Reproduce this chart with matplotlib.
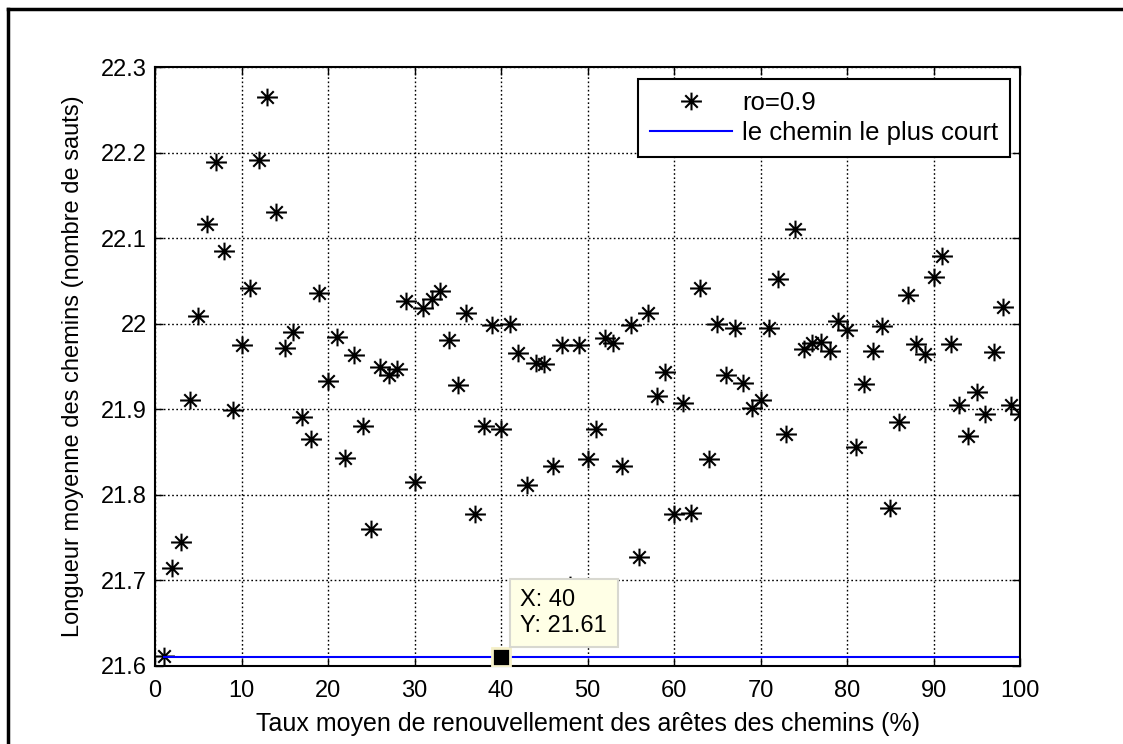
import numpy as np
import matplotlib
matplotlib.use("Agg")
import matplotlib.pyplot as plt
from matplotlib.path import Path
from matplotlib.lines import Line2D

plt.rcParams['font.family'] = ['Liberation Sans', 'DejaVu Sans']

# taux de renouvellement (%) et longueur moyenne mesurée
taux = list(range(1, 101))
longueur = [
    21.612, 21.715, 21.745, 21.911, 22.009, 22.117, 22.189, 22.085, 21.899, 21.975,
    22.042, 22.191, 22.265, 22.130, 21.972, 21.990, 21.891, 21.865, 22.036, 21.933,
    21.984, 21.843, 21.964, 21.881, 21.760, 21.949, 21.940, 21.947, 22.026, 21.815,
    22.018, 22.029, 22.038, 21.981, 21.928, 22.013, 21.778, 21.880, 21.998, 21.877,
    22.000, 21.966, 21.812, 21.954, 21.953, 21.834, 21.975, 21.695, 21.975, 21.842,
    21.877, 21.983, 21.977, 21.834, 21.999, 21.727, 22.013, 21.915, 21.944, 21.778,
    21.907, 21.779, 22.042, 21.842, 22.000, 21.940, 21.995, 21.931, 21.901, 21.911,
    21.995, 22.052, 21.871, 22.111, 21.971, 21.977, 21.979, 21.968, 22.003, 21.993,
    21.856, 21.929, 21.968, 21.997, 21.785, 21.885, 22.033, 21.976, 21.965, 22.055,
    22.079, 21.976, 21.905, 21.869, 21.920, 21.895, 21.967, 22.019, 21.905, 21.895,
]
plus_court = 21.61
tip_x, tip_y = 40, 21.61

x_ticks = list(range(0, 101, 10))
y_ticks = [21.6, 21.7, 21.8, 21.9, 22.0, 22.1, 22.2, 22.3]
y_labels = ['21.6', '21.7', '21.8', '21.9', '22', '22.1', '22.2', '22.3']

# marqueur étoile façon matlab (plus + croix)
star = Path(
    [(-1, 0), (1, 0), (0, -0.85), (0, 0.85),
     (-0.6, -0.6), (0.6, 0.6), (-0.6, 0.6), (0.6, -0.6)],
    [Path.MOVETO, Path.LINETO] * 4)

fig = plt.figure(figsize=(11.23, 7.44), dpi=100)
ax = fig.add_axes([155 / 1123, 1 - 666 / 744, 865 / 1123, 599 / 744])

ax.plot(taux, longueur, linestyle='none', marker=star, markersize=15,
        markeredgewidth=1.5, color='black', label='ro=0.9')
ax.plot([taux[0], taux[-1]], [plus_court, plus_court], color='blue',
        linewidth=1.5, label='le chemin le plus court')

ax.set_xlim(0, 100)
ax.set_ylim(21.6, 22.3)
ax.set_xticks(x_ticks)
ax.set_yticks(y_ticks)
ax.set_yticklabels(y_labels)
ax.tick_params(direction='in', length=6, width=1, labelsize=17, top=True,
               right=True)
ax.tick_params(axis='x', pad=10)
ax.tick_params(axis='y', pad=6)
ax.grid(True, color='black', linestyle=(0, (1.2, 1.8)), linewidth=1)
for s in ax.spines.values():
    s.set_linewidth(1.5)

ax.set_xlabel('Taux moyen de renouvellement des arêtes des chemins (%)',
              fontsize=18, labelpad=7)
ax.set_ylabel('Longueur moyenne des chemins (nombre de sauts)', fontsize=17,
              labelpad=12)

leg = ax.legend(loc='upper right', bbox_to_anchor=(1010 / 1123, 1 - 79 / 744),
                bbox_transform=fig.transFigure, fontsize=18.5, frameon=True,
                fancybox=False, framealpha=1, edgecolor='black',
                borderpad=0.45, handlelength=3.2, handletextpad=0.4,
                labelspacing=0.25, borderaxespad=0)
leg.get_frame().set_linewidth(1.5)

# data tip
ax.plot([tip_x], [tip_y], marker='s', markersize=13, color='black',
        markeredgecolor='#f5f0c8', markeredgewidth=2, zorder=5)
ax.annotate(f'X: {tip_x}\nY: {tip_y:.2f}', xy=(tip_x, tip_y),
            xytext=(14, 15), textcoords='offset points', fontsize=17,
            va='bottom', ha='left', linespacing=1.2,
            bbox=dict(boxstyle='square,pad=0.45', facecolor='#ffffe6',
                      edgecolor='#d8d8d0', linewidth=1.5), zorder=6)

# cadre de la capture
fig.add_artist(Line2D([8 / 1123, 8 / 1123], [0, 1 - 9 / 744],
                      color='black', linewidth=2.5, transform=fig.transFigure))
fig.add_artist(Line2D([8 / 1123, 1], [1 - 9 / 744, 1 - 9 / 744],
                      color='black', linewidth=2.5, transform=fig.transFigure))

fig.savefig('out.png', dpi=100)
